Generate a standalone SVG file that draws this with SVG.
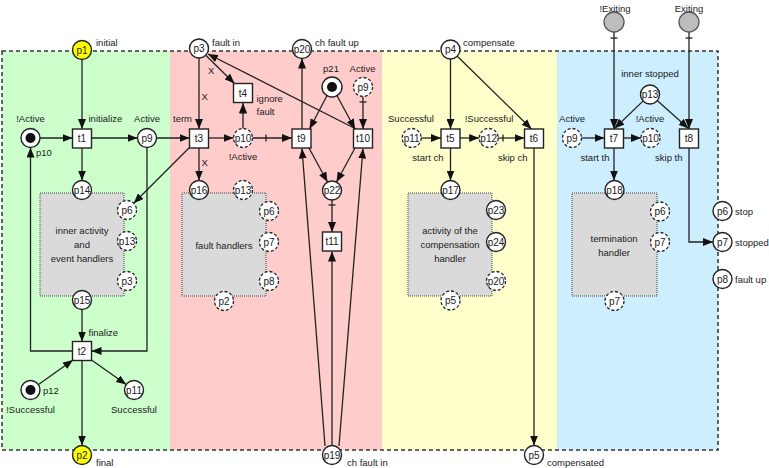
<svg xmlns="http://www.w3.org/2000/svg" width="769" height="468" viewBox="0 0 769 468">
  <style>
    text { font-family: "Liberation Sans", Arial, sans-serif; font-size: 9.5px; fill: #1a1a1a; }
    .pl { font-size: 10px; text-anchor: middle; }
    .mid { text-anchor: middle; }
    .end { text-anchor: end; }
    .place { fill: #fff; stroke: #222; stroke-width: 1.4; }
    .ext { fill: #fff; stroke: #222; stroke-width: 1.3; stroke-dasharray: 3 2; }
    .io { fill: #ffff00; stroke: #222; stroke-width: 1.4; }
    .env { fill: #bdbdbd; stroke: #555; stroke-width: 1.3; }
    .token { fill: #111; }
    .trans { fill: #fff; stroke: #222; stroke-width: 1.4; }
    .sub { fill: #dadada; stroke: #444; stroke-width: 1; stroke-dasharray: 1 1; }
    .arc { fill: none; stroke: #222; stroke-width: 1.3; marker-end: url(#ah); }
    .line { fill: none; stroke: #222; stroke-width: 1.3; }
    .tick { stroke: #222; stroke-width: 1.3; }
    .border { fill: none; stroke: #333; stroke-width: 1.5; stroke-dasharray: 4 3; }
  </style>
  <defs>
    <marker id="ah" viewBox="0 0 10 8" refX="10" refY="4" markerWidth="10" markerHeight="8" markerUnits="userSpaceOnUse" orient="auto">
      <path d="M0,0 L10,4 L0,8 z" fill="#111"/>
    </marker>
  </defs>

  <!-- zone backgrounds -->
  <g id="zones">
    <rect x="2" y="51" width="168" height="399" fill="#ccffcc"/>
    <rect x="170" y="51" width="212" height="399" fill="#ffcccc"/>
    <rect x="382" y="51" width="175" height="399" fill="#ffffcc"/>
    <rect x="557" y="51" width="161" height="399" fill="#cceeff"/>
    <rect x="2" y="51" width="716" height="399" class="border"/>
  </g>

  <!-- sub-net boxes -->
  <g id="boxes">
    <rect x="40" y="193" width="84" height="103" class="sub"/>
    <rect x="182" y="193" width="84" height="103" class="sub"/>
    <rect x="408" y="193" width="84" height="103" class="sub"/>
    <rect x="572" y="193" width="85" height="103" class="sub"/>
    <text class="mid" x="82" y="234">inner activity</text>
    <text class="mid" x="82" y="248">and</text>
    <text class="mid" x="82" y="262">event handlers</text>
    <text class="mid" x="224" y="249">fault handlers</text>
    <text class="mid" x="450" y="234">activity of the</text>
    <text class="mid" x="450" y="248">compensation</text>
    <text class="mid" x="450" y="262">handler</text>
    <text class="mid" x="614" y="242">termination</text>
    <text class="mid" x="614" y="256">handler</text>
  </g>

  <!-- connectors -->
  <g id="arcs">
    <!-- scope body -->
    <path class="arc" d="M82,59.5 L82,129"/>
    <path class="arc" d="M40,138 L72.5,138"/>
    <path class="arc" d="M91.5,138 L137.5,138"/>
    <path class="arc" d="M156.5,138 L189.5,138"/>
    <path class="arc" d="M82,148 L82,180.5"/>
    <path class="arc" d="M189.5,147.5 L133.7,203.3"/>
    <path class="arc" d="M147,147.5 L147,351 L91.5,351"/>
    <path class="arc" d="M82,309.5 L82,341.5"/>
    <path class="arc" d="M72.5,351 L30.5,351 L30.5,147.5"/>
    <path class="arc" d="M38.5,384.5 L73,360"/>
    <path class="arc" d="M91.5,360 L126.2,384.5"/>
    <path class="arc" d="M82,360.5 L82,445.5"/>
    <!-- fault handling -->
    <path class="arc" d="M199,58 L199,129"/>
    <path class="arc" d="M205.7,55.3 L234.5,83.5"/>
    <path class="arc" d="M356,129 L208,54"/>
    <path class="arc" d="M208.5,138 L233.5,138"/>
    <path class="arc" d="M243,128.5 L243,103"/>
    <line class="tick" x1="239.5" y1="113" x2="246.5" y2="113"/>
    <path class="arc" d="M252.5,138 L292,138"/>
    <line class="tick" x1="266" y1="134.5" x2="266" y2="141.5"/>
    <path class="arc" d="M302,129 L302,58.5"/>
    <path class="arc" d="M327.2,95.2 L309.5,129"/>
    <path class="arc" d="M336.8,95.2 L355,129"/>
    <path class="arc" d="M363,96.5 L363,129"/>
    <line class="tick" x1="359.5" y1="102" x2="366.5" y2="102"/>
    <path class="arc" d="M309,148 L327.5,182"/>
    <path class="arc" d="M355,148 L336.5,182"/>
    <path class="arc" d="M332,200 L332,232"/>
    <line class="tick" x1="328.5" y1="205" x2="335.5" y2="205"/>
    <path class="arc" d="M332,445.5 L332,251.5"/>
    <path class="arc" d="M325,446 L302,148.5"/>
    <path class="arc" d="M339,446 L363,148.5"/>
    <path class="arc" d="M199,148 L199,180.5"/>
    <!-- compensation -->
    <path class="arc" d="M450.5,59 L450.5,129"/>
    <path class="arc" d="M457.3,56.2 L531.5,129"/>
    <path class="arc" d="M421.2,138 L441,138"/>
    <path class="arc" d="M460,138 L479.2,138"/>
    <path class="arc" d="M498.2,138 L524.5,138"/>
    <line class="tick" x1="503" y1="134.5" x2="503" y2="141.5"/>
    <path class="arc" d="M450.5,148 L450.5,180.5"/>
    <path class="arc" d="M534,148 L534,445.5"/>
    <!-- termination -->
    <path class="arc" d="M614,32 L614,129"/>
    <line class="tick" x1="610.5" y1="38" x2="617.5" y2="38"/>
    <path class="arc" d="M689,32 L689,129"/>
    <line class="tick" x1="685.5" y1="38" x2="692.5" y2="38"/>
    <path class="arc" d="M643.2,100.9 L614.5,128.5"/>
    <path class="arc" d="M657.2,100.5 L688.5,128.5"/>
    <path class="arc" d="M581.5,138 L604.5,138"/>
    <path class="arc" d="M623.5,138 L641,138"/>
    <path class="arc" d="M614,148 L614,180.5"/>
    <path class="arc" d="M689,148 L689,242 L713,242"/>
  </g>

  <!-- places -->
  <g id="p1"><circle class="io" cx="82" cy="50" r="9.5"/><text class="pl" x="82" y="53.5">p1</text><text x="96" y="46">initial</text></g>
  <g id="p2"><circle class="io" cx="82" cy="455" r="9.5"/><text class="pl" x="82" y="458.5">p2</text><text x="96" y="466">final</text></g>
  <g id="p10a"><circle class="place" cx="30.5" cy="138" r="9.5"/><circle class="token" cx="30.5" cy="138" r="5"/><text class="mid" x="30.5" y="122">!Active</text><text x="36" y="156">p10</text></g>
  <g id="p9a"><circle class="place" cx="147" cy="138" r="9.5"/><text class="pl" x="147" y="141.5">p9</text><text class="mid" x="147" y="122">Active</text></g>
  <g id="p14"><circle class="place" cx="82" cy="190" r="9.5"/><text class="pl" x="82" y="193.5">p14</text></g>
  <g id="p6a"><circle class="ext" cx="127" cy="210" r="9.5"/><text class="pl" x="127" y="213.5">p6</text></g>
  <g id="p13a"><circle class="ext" cx="127" cy="241" r="9.5"/><text class="pl" x="127" y="244.5">p13</text></g>
  <g id="p3a"><circle class="ext" cx="127" cy="281" r="9.5"/><text class="pl" x="127" y="284.5">p3</text></g>
  <g id="p15"><circle class="place" cx="82" cy="300" r="9.5"/><text class="pl" x="82" y="303.5">p15</text></g>
  <g id="p12a"><circle class="place" cx="30.5" cy="390" r="9.5"/><circle class="token" cx="30.5" cy="390" r="5"/><text x="43" y="394">p12</text><text class="mid" x="30.5" y="413">!Successful</text></g>
  <g id="p11a"><circle class="place" cx="134" cy="390" r="9.5"/><text class="pl" x="134" y="393.5">p11</text><text class="mid" x="134" y="413">Successful</text></g>

  <g id="p3"><circle class="place" cx="199" cy="48.5" r="9.5"/><text class="pl" x="199" y="52">p3</text><text x="212" y="46">fault in</text></g>
  <g id="p20"><circle class="place" cx="302" cy="49" r="9.5"/><text class="pl" x="302" y="52.5">p20</text><text x="315" y="46">ch fault up</text></g>
  <g id="p10b"><circle class="ext" cx="243" cy="138" r="9.5"/><text class="pl" x="243" y="141.5">p10</text><text class="mid" x="243" y="160">!Active</text></g>
  <g id="p21"><circle class="place" cx="332" cy="87" r="10"/><circle class="token" cx="332" cy="87" r="5"/><text class="mid" x="331" y="72">p21</text></g>
  <g id="p9b"><circle class="ext" cx="363" cy="87" r="9.5"/><text class="pl" x="363" y="90.5">p9</text><text class="mid" x="362.5" y="72">Active</text></g>
  <g id="p22"><circle class="place" cx="332" cy="190.5" r="9.5"/><text class="pl" x="332" y="194">p22</text></g>
  <g id="p16"><circle class="place" cx="199" cy="190" r="9.5"/><text class="pl" x="199" y="193.5">p16</text></g>
  <g id="p13b"><circle class="ext" cx="243" cy="190" r="9.5"/><text class="pl" x="243" y="193.5">p13</text></g>
  <g id="p6b"><circle class="ext" cx="269" cy="211" r="9.5"/><text class="pl" x="269" y="214.5">p6</text></g>
  <g id="p7b"><circle class="ext" cx="269" cy="242" r="9.5"/><text class="pl" x="269" y="245.5">p7</text></g>
  <g id="p8b"><circle class="ext" cx="269" cy="281" r="9.5"/><text class="pl" x="269" y="284.5">p8</text></g>
  <g id="p2b"><circle class="ext" cx="224" cy="301" r="9.5"/><text class="pl" x="224" y="304.5">p2</text></g>
  <g id="p19"><circle class="place" cx="332" cy="455" r="9.5"/><text class="pl" x="332" y="458.5">p19</text><text x="347" y="466">ch fault in</text></g>

  <g id="p4"><circle class="place" cx="450.5" cy="49.5" r="9.5"/><text class="pl" x="450.5" y="53">p4</text><text x="463" y="46">compensate</text></g>
  <g id="p11b"><circle class="ext" cx="411.7" cy="138" r="9.5"/><text class="pl" x="411.7" y="141.5">p11</text><text class="mid" x="411" y="122">Successful</text></g>
  <g id="p12b"><circle class="ext" cx="488.7" cy="138" r="9.5"/><text class="pl" x="488.7" y="141.5">p12</text><text class="mid" x="489" y="122">!Successful</text></g>
  <g id="p17"><circle class="place" cx="450.5" cy="190" r="9.5"/><text class="pl" x="450.5" y="193.5">p17</text></g>
  <g id="p23"><circle class="place" cx="496" cy="210" r="9.5"/><text class="pl" x="496" y="213.5">p23</text></g>
  <g id="p24"><circle class="place" cx="496" cy="242" r="9.5"/><text class="pl" x="496" y="245.5">p24</text></g>
  <g id="p20b"><circle class="ext" cx="496" cy="281" r="9.5"/><text class="pl" x="496" y="284.5">p20</text></g>
  <g id="p5b"><circle class="ext" cx="450.5" cy="300.5" r="9.5"/><text class="pl" x="450.5" y="304">p5</text></g>
  <g id="p5"><circle class="place" cx="534" cy="455" r="9.5"/><text class="pl" x="534" y="458.5">p5</text><text x="547" y="466">compensated</text></g>

  <g id="notExiting"><circle class="env" cx="614" cy="22" r="10"/><text class="mid" x="615" y="12">!Exiting</text></g>
  <g id="exiting"><circle class="env" cx="689" cy="22" r="10"/><text class="mid" x="689" y="12">Exiting</text></g>
  <g id="p13"><circle class="place" cx="650" cy="94.5" r="9.5"/><text class="pl" x="650" y="98">p13</text><text class="mid" x="650" y="77">inner stopped</text></g>
  <g id="p9c"><circle class="ext" cx="572" cy="138" r="9.5"/><text class="pl" x="572" y="141.5">p9</text><text class="mid" x="572" y="122">Active</text></g>
  <g id="p10c"><circle class="ext" cx="650.5" cy="138" r="9.5"/><text class="pl" x="650.5" y="141.5">p10</text><text class="mid" x="650" y="122">!Active</text></g>
  <g id="p18"><circle class="place" cx="614.5" cy="190" r="9.5"/><text class="pl" x="614.5" y="193.5">p18</text></g>
  <g id="p6c"><circle class="ext" cx="660" cy="211.5" r="9.5"/><text class="pl" x="660" y="215">p6</text></g>
  <g id="p7c"><circle class="ext" cx="660" cy="242" r="9.5"/><text class="pl" x="660" y="245.5">p7</text></g>
  <g id="p7d"><circle class="ext" cx="614.5" cy="301" r="9.5"/><text class="pl" x="614.5" y="304.5">p7</text></g>
  <g id="p6"><circle class="place" cx="722.5" cy="211" r="9.5"/><text class="pl" x="722.5" y="214.5">p6</text><text x="735" y="214.5">stop</text></g>
  <g id="p7"><circle class="place" cx="722.5" cy="242" r="9.5"/><text class="pl" x="722.5" y="245.5">p7</text><text x="735" y="245.5">stopped</text></g>
  <g id="p8"><circle class="place" cx="722.5" cy="279" r="9.5"/><text class="pl" x="722.5" y="282.5">p8</text><text x="735" y="282.5">fault up</text></g>

  <!-- transitions -->
  <g id="t1"><rect class="trans" x="72.5" y="129" width="19" height="19"/><text class="pl" x="82" y="142">t1</text><text x="88.5" y="122">initialize</text></g>
  <g id="t2"><rect class="trans" x="72.5" y="341.5" width="19" height="19"/><text class="pl" x="82" y="354.5">t2</text><text x="88.5" y="336">finalize</text></g>
  <g id="t3"><rect class="trans" x="189.5" y="129" width="19" height="19"/><text class="pl" x="199" y="142">t3</text><text class="end" x="192" y="122">term</text><text x="201.5" y="100">X</text><text x="201.5" y="166">X</text></g>
  <g id="t4"><rect class="trans" x="233.5" y="83.5" width="19" height="19"/><text class="pl" x="243" y="96.5">t4</text><text x="256.5" y="102">ignore</text><text x="256.5" y="115">fault</text><text x="208" y="73.5">X</text></g>
  <g id="t9"><rect class="trans" x="292" y="129" width="19" height="19"/><text class="pl" x="301.5" y="142">t9</text></g>
  <g id="t10"><rect class="trans" x="353.5" y="129" width="19" height="19"/><text class="pl" x="363" y="142">t10</text></g>
  <g id="t11"><rect class="trans" x="322.5" y="232" width="19" height="19"/><text class="pl" x="332" y="245">t11</text></g>
  <g id="t5"><rect class="trans" x="441" y="129" width="19" height="19"/><text class="pl" x="450.5" y="142">t5</text><text class="end" x="443.5" y="161">start ch</text></g>
  <g id="t6"><rect class="trans" x="524.5" y="129" width="19" height="19"/><text class="pl" x="534" y="142">t6</text><text class="end" x="527.5" y="161">skip ch</text></g>
  <g id="t7"><rect class="trans" x="604.5" y="129" width="19" height="19"/><text class="pl" x="614" y="142">t7</text><text class="end" x="609.5" y="161">start th</text></g>
  <g id="t8"><rect class="trans" x="679.5" y="129" width="19" height="19"/><text class="pl" x="689" y="142">t8</text><text class="end" x="682.5" y="161">skip th</text></g>
</svg>
